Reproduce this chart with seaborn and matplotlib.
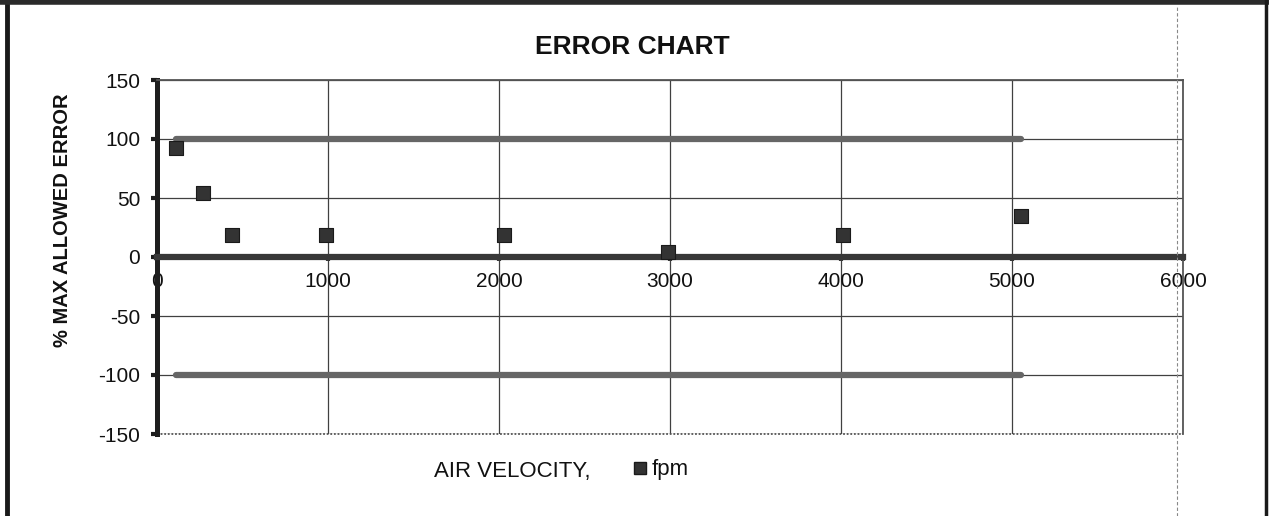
import matplotlib
matplotlib.use("Agg")
import matplotlib.pyplot as plt
from matplotlib.lines import Line2D
import seaborn as sns
import pandas as pd

# Measured error at each test air velocity
velocity_fpm = [110, 270, 440, 990, 2030, 2990, 4010, 5050]
error_pct = [92, 54, 19, 19, 19, 4, 19, 35]
# Allowed error band
upper_limit = [100, 100, 100, 100, 100, 100, 100, 100]
lower_limit = [-100, -100, -100, -100, -100, -100, -100, -100]

x_ticks = [0, 1000, 2000, 3000, 4000, 5000, 6000]
y_ticks = [-150, -100, -50, 0, 50, 100, 150]

sns.set_theme(style="white")
plt.rcParams["font.family"] = ["Liberation Sans", "DejaVu Sans"]

W, H = 1269, 516
fig = plt.figure(figsize=(W / 100, H / 100), dpi=100)
fig.patch.set_facecolor("white")

ax_l, ax_r, ax_t, ax_b = 157, 1183, 80, 434
ax = fig.add_axes([ax_l / W, 1 - ax_b / H, (ax_r - ax_l) / W, (ax_b - ax_t) / H])
ax.set_facecolor("white")

df = pd.DataFrame({"velocity": velocity_fpm, "error": error_pct,
                   "upper": upper_limit, "lower": lower_limit})

# Limit lines
sns.lineplot(data=df, x="velocity", y="upper", ax=ax, color="#666666",
             linewidth=4.5, solid_capstyle="round", zorder=3, legend=False)
sns.lineplot(data=df, x="velocity", y="lower", ax=ax, color="#666666",
             linewidth=4.5, solid_capstyle="round", zorder=3, legend=False)

# Measured points
sns.scatterplot(data=df, x="velocity", y="error", ax=ax, marker="s",
                s=90, color="#333333", edgecolor="#1a1a1a", linewidth=0.8,
                zorder=5, label="fpm")

ax.set_xlim(0, 6000)
ax.set_ylim(-150, 150)
ax.set_xticks(x_ticks)
ax.set_yticks(y_ticks)
ax.set_xticklabels([str(v) for v in x_ticks])
ax.set_yticklabels([str(v) for v in y_ticks])

ax.grid(True, color="#404040", linewidth=0.9)
ax.set_axisbelow(True)

# Axis styling: y axis on the left, x axis crossing at zero
ax.spines["left"].set_linewidth(3.6)
ax.spines["left"].set_color("#1e1e1e")
ax.spines["bottom"].set_position(("data", 0))
ax.spines["bottom"].set_linewidth(4.5)
ax.spines["bottom"].set_color("#383838")
ax.spines["bottom"].set_zorder(4)
for side in ("top", "right"):
    ax.spines[side].set_linestyle((0, (1, 1)))
    ax.spines[side].set_linewidth(1.3)
    ax.spines[side].set_color("#555555")
ax.axhline(-150, color="#555555", linewidth=1.3, linestyle=(0, (1, 1)),
           clip_on=False, zorder=2)

ax.tick_params(axis="y", which="major", left=True, length=4, width=3,
               color="#1e1e1e", pad=8, labelsize=15, labelcolor="#111111")
ax.tick_params(axis="x", which="major", bottom=True, length=3, width=3,
               color="#383838", pad=8, labelsize=15, labelcolor="#111111")

ax.set_xlabel("")
ax.set_ylabel("")
ax.legend_.remove()

# Titles and labels
fig.text(632 / W, 1 - 47 / H, "ERROR CHART", ha="center", va="center",
         fontsize=19, fontweight="bold", color="#111111")
fig.text(62 / W, 1 - 220 / H, "% MAX ALLOWED ERROR", ha="center", va="center",
         rotation=90, fontsize=14.5, fontweight="bold", color="#111111")
fig.text(512 / W, 1 - 471 / H, "AIR VELOCITY,", ha="center", va="center",
         fontsize=16, color="#111111")

handle = Line2D([], [], marker="s", linestyle="none", markersize=9,
                markerfacecolor="#333333", markeredgecolor="#1a1a1a")
fig.legend([handle], ["fpm"], loc="center left",
           bbox_to_anchor=(618 / W, 1 - 470 / H), frameon=False,
           handletextpad=0.0, handlelength=1.0, borderpad=0, fontsize=16,
           labelcolor="#111111")

# Outer frame of the chart
fig.add_artist(Line2D([7 / W, 7 / W], [0, 1], color="#1a1a1a", linewidth=3.5,
                      transform=fig.transFigure))
fig.add_artist(Line2D([0, 1], [1 - 2 / H, 1 - 2 / H], color="#2a2a2a",
                      linewidth=4, transform=fig.transFigure))
fig.add_artist(Line2D([1266 / W, 1266 / W], [0, 1], color="#1a1a1a",
                      linewidth=2.5, transform=fig.transFigure))
fig.add_artist(Line2D([1177 / W, 1177 / W], [0, 1 - 5 / H], color="#888888",
                      linewidth=0.8, linestyle=(0, (3, 2)),
                      transform=fig.transFigure))

fig.savefig("out.png", dpi=100, facecolor="white")
